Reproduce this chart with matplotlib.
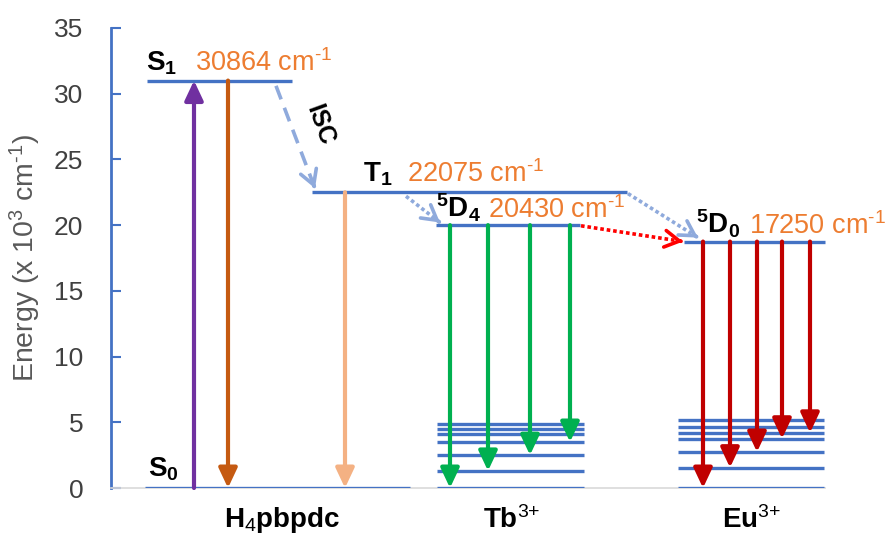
import numpy as np
import matplotlib
matplotlib.use('Agg')
import matplotlib.pyplot as plt

plt.rcParams['font.family'] = ['Liberation Sans', 'DejaVu Sans']
plt.rcParams['mathtext.fontset'] = 'custom'
plt.rcParams['mathtext.rm'] = 'Liberation Sans'
plt.rcParams['mathtext.it'] = 'Liberation Sans:italic'
plt.rcParams['mathtext.bf'] = 'Liberation Sans:bold'

# energias (x 10^3 cm-1)
nivel_s1 = 31.0
nivel_t1 = 22.5
nivel_d4 = 20.0
nivel_d0 = 18.75
nivel_s0 = 0.0
niveis_tb = [0, 1.3, 2.5, 3.5, 4.1, 4.5, 4.9]
niveis_eu = [0, 1.55, 2.74, 3.75, 4.2, 4.66, 5.17]
alvos_tb = [0, 1.3, 2.5, 3.5]
alvos_eu = [0, 1.55, 2.74, 3.75, 4.2]
rotulos_cm = [r'30864 cm$^{\text{-}1}$', r'22075 cm$^{\text{-}1}$',
              r'20430 cm$^{\text{-}1}$', r'17250 cm$^{\text{-}1}$']
rotulos_base = [r'H$_\text{4}$pbpdc', r'Tb$^\text{3+}$', r'Eu$^\text{3+}$']
yticks = [0, 5, 10, 15, 20, 25, 30, 35]

azul = '#4472C4'
azul_claro = '#8FAADC'
laranja = '#ED7D31'

fig = plt.figure(figsize=(8.93, 5.36), dpi=100)
ax = fig.add_axes([111 / 893, 48 / 536, 782 / 893, 460 / 536])
ax.set_xlim(111, 893)
ax.set_ylim(0, 35)

# niveis
def nivel(x0, x1, y):
    ax.plot([x0, x1], [y, y], color=azul, lw=2.4, solid_capstyle='butt', zorder=3)

nivel(147, 292, nivel_s1)
nivel(145, 410, nivel_s0)
nivel(312, 627, nivel_t1)
nivel(436, 580, nivel_d4)
nivel(684, 825, nivel_d0)
for y in niveis_tb:
    nivel(437, 584, y)
for y in niveis_eu:
    nivel(678, 824, y)

def seta(x, y0, y1, cor):
    ax.annotate('', xy=(x, y1), xytext=(x, y0),
                arrowprops=dict(arrowstyle='-|>,head_length=0.85,head_width=0.4',
                                color=cor, lw=3, mutation_scale=14,
                                shrinkA=0, shrinkB=0), zorder=4)

seta(194, nivel_s0, nivel_s1, '#7030A0')
seta(228, nivel_s1, nivel_s0, '#C55A11')
seta(345, nivel_t1, nivel_s0, '#F4B183')
for x, y in zip([450, 488, 530, 570], alvos_tb):
    seta(x, nivel_d4, y, '#00B050')
for x, y in zip([703, 730, 757, 782, 810], alvos_eu):
    seta(x, nivel_d0, y, '#C00000')

# transferencias (tracejado / pontilhado)
def transf(p0, p1, cor, estilo, lw=2.6):
    ax.plot([p0[0], p1[0]], [p0[1], p1[1]], color=cor, lw=lw, ls=estilo, zorder=2)
    dx, dy = p1[0] - p0[0], p1[1] - p0[1]
    ax.annotate('', xy=p1, xytext=(p1[0] - dx * 0.02, p1[1] - dy * 0.02),
                arrowprops=dict(arrowstyle='->,head_length=0.7,head_width=0.4',
                                color=cor, lw=lw, mutation_scale=15,
                                shrinkA=0, shrinkB=0), zorder=2)

transf((276, 30.6), (315, 22.8), azul_claro, (0, (4, 2.5)))
transf((406, 22.2), (440, 20.2), azul_claro, (0, (1, 0.8)))
transf((628, 22.4), (698, 19.05), azul_claro, (0, (1, 0.8)))
transf((581, 19.95), (683, 18.75), '#FF0000', (0, (1, 0.8)))

ax.text(320, 27.6, 'ISC', rotation=-70, fontsize=18, fontweight='bold',
        ha='center', va='center')

# rotulos
ax.text(146, 31.3, r'$\mathbf{S_1}$', fontsize=20, ha='left', va='bottom')
ax.text(195, 31.3, rotulos_cm[0], fontsize=19.5, color=laranja, ha='left', va='bottom')
ax.text(363, 22.8, r'$\mathbf{T_1}$', fontsize=20, ha='left', va='bottom')
ax.text(407, 22.8, rotulos_cm[1], fontsize=19.5, color=laranja, ha='left', va='bottom')
ax.text(436, 20.1, r'$\mathbf{^5D_4}$', fontsize=20, ha='left', va='bottom')
ax.text(488, 20.1, rotulos_cm[2], fontsize=19.5, color=laranja, ha='left', va='bottom')
ax.text(696, 18.85, r'$\mathbf{^5D_0}$', fontsize=20, ha='left', va='bottom')
ax.text(749, 18.85, rotulos_cm[3], fontsize=19.5, color=laranja, ha='left', va='bottom')
ax.text(148, 0.4, r'$\mathbf{S_0}$', fontsize=20, ha='left', va='bottom')

for x, txt in zip([282, 512, 752], rotulos_base):
    ax.text(x, -2.45, txt, fontsize=20, fontweight='bold', ha='center', va='center',
            clip_on=False)

ax.set_yticks(yticks)
ax.set_xticks([])
ax.tick_params(axis='y', direction='in', length=7, width=1.5, color=azul,
               labelsize=19, labelcolor='#404040', pad=20)
ax.spines['left'].set_color(azul)
ax.spines['left'].set_linewidth(2)
ax.spines['bottom'].set_color('#D9D9D9')
ax.spines['bottom'].set_linewidth(1.2)
ax.spines['bottom'].set_bounds(111, 825)
ax.spines['top'].set_visible(False)
ax.spines['right'].set_visible(False)
ax.set_ylabel(r'Energy (x 10$^3$ cm$^{\text{-}1}$)', fontsize=20.5, color='#595959', labelpad=8)

fig.savefig('out.png', dpi=100)
